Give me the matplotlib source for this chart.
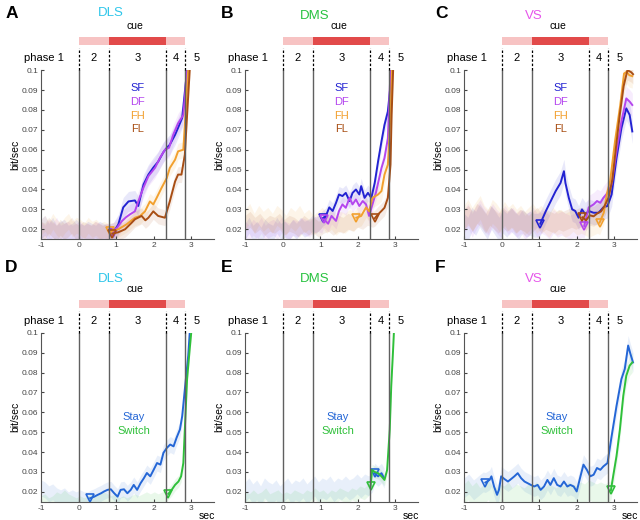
import matplotlib
matplotlib.use("Agg")
import matplotlib.pyplot as plt
import numpy as np
from matplotlib.patches import Rectangle
from matplotlib.transforms import blended_transform_factory

plt.rcParams["font.family"] = ["Liberation Sans", "DejaVu Sans"]

# task phase boundaries (sec) and cue timing
phase_bounds = [0, 0.82, 2.33, 2.84]
phase_names = ["phase 1", "2", "3", "4", "5"]
phase_text_x = [-0.92, 0.4, 1.57, 2.6, 3.15]
yticks = [0.02, 0.03, 0.04, 0.05, 0.06, 0.07, 0.08, 0.09, 0.1]
ytick_labels = ["0.02", "0.03", "0.04", "0.05", "0.06", "0.07", "0.08", "0.09", "0.1"]
xticks = [-1, 0, 1, 2, 3]

col = {"SF": "#2323d2", "DF": "#b446ee", "FH": "#f2a02e", "FL": "#a84e14",
       "Stay": "#2466d6", "Switch": "#2fc03a"}

# ---------------- panel A (DLS) ----------------
A_SF_pre = [0.020, 0.022, 0.018, 0.021, 0.017, 0.019, 0.020, 0.017, 0.018, 0.020,
            0.018, 0.017, 0.019, 0.018, 0.017, 0.019, 0.018, 0.017, 0.018]
A_SF_t = [0.93, 1.06, 1.19, 1.33, 1.5, 1.59, 1.73, 1.86, 1.99, 2.12, 2.26, 2.35, 2.43,
          2.57, 2.65, 2.76, 2.83, 2.89]
A_SF = [0.0183, 0.0225, 0.031, 0.034, 0.0345, 0.0317, 0.0425, 0.0475, 0.051, 0.054,
        0.0588, 0.061, 0.0625, 0.0675, 0.071, 0.076, 0.089, 0.1]
A_DF_pre = [0.019, 0.017, 0.020, 0.018, 0.021, 0.017, 0.018, 0.019, 0.017, 0.018,
            0.019, 0.017, 0.018, 0.017, 0.019, 0.018, 0.017, 0.018, 0.018]
A_DF_t = [0.93, 1.15, 1.26, 1.37, 1.5, 1.59, 1.73, 1.86, 2.04, 2.17, 2.3, 2.41, 2.52,
          2.65, 2.79, 2.83, 2.88]
A_DF = [0.0183, 0.024, 0.026, 0.0275, 0.029, 0.034, 0.041, 0.0467, 0.051, 0.056, 0.06,
        0.061, 0.0675, 0.0733, 0.0775, 0.086, 0.1]
A_FH_pre = [0.021, 0.023, 0.020, 0.024, 0.021, 0.019, 0.022, 0.024, 0.020, 0.022,
            0.021, 0.019, 0.022, 0.020, 0.021, 0.019, 0.020, 0.019]
A_FH_t = [0.84, 1.06, 1.28, 1.5, 1.64, 1.77, 1.9, 1.99, 2.08, 2.21, 2.35, 2.43, 2.57,
          2.65, 2.79, 2.83, 2.92]
A_FH = [0.019, 0.02, 0.0225, 0.0258, 0.0267, 0.029, 0.034, 0.0325, 0.0358, 0.0408,
        0.0458, 0.0508, 0.055, 0.0592, 0.06, 0.0725, 0.1]
A_FL_pre = [0.020, 0.019, 0.022, 0.020, 0.018, 0.021, 0.019, 0.020, 0.022, 0.019,
            0.018, 0.020, 0.019, 0.018, 0.020, 0.019, 0.018, 0.019, 0.018]
A_FL_t = [0.9, 1.06, 1.24, 1.4, 1.5, 1.68, 1.78, 1.86, 1.99, 2.12, 2.3, 2.43, 2.57,
          2.65, 2.74, 2.83, 2.89, 2.96]
A_FL = [0.0178, 0.0185, 0.02, 0.023, 0.025, 0.0267, 0.0245, 0.0258, 0.029, 0.0267,
        0.0258, 0.034, 0.044, 0.0475, 0.0475, 0.0575, 0.0775, 0.1]

# ---------------- panel B (DMS) ----------------
B_SF_pre = [0.019, 0.022, 0.018, 0.020, 0.017, 0.021, 0.019, 0.018, 0.022, 0.019,
            0.020, 0.018, 0.021, 0.019, 0.022, 0.020, 0.021, 0.023, 0.022, 0.024]
B_SF_t = [1.06, 1.15, 1.24, 1.33, 1.42, 1.5, 1.59, 1.68, 1.78, 1.86, 1.95, 2.04, 2.09,
          2.18, 2.27, 2.36, 2.45, 2.54, 2.63, 2.71, 2.8, 2.87, 2.9]
B_SF = [0.0255, 0.0267, 0.031, 0.0292, 0.0333, 0.0375, 0.0367, 0.0383, 0.0342, 0.0383,
        0.04, 0.0375, 0.0417, 0.0358, 0.0383, 0.0358, 0.0433, 0.0542, 0.0642, 0.0725,
        0.0792, 0.0925, 0.1]
B_DF_pre = [0.020, 0.018, 0.021, 0.019, 0.022, 0.018, 0.020, 0.021, 0.019, 0.022,
            0.020, 0.019, 0.021, 0.020, 0.022, 0.021, 0.020, 0.022, 0.023, 0.022]
B_DF_t = [1.1, 1.21, 1.3, 1.42, 1.5, 1.59, 1.68, 1.78, 1.86, 1.95, 2.04, 2.13, 2.22,
          2.3, 2.39, 2.48, 2.63, 2.71, 2.8, 2.87]
B_DF = [0.025, 0.0228, 0.0267, 0.0242, 0.0292, 0.0325, 0.0308, 0.0358, 0.0325, 0.035,
        0.0317, 0.0342, 0.0325, 0.0267, 0.0325, 0.0383, 0.0508, 0.0558, 0.0658, 0.1]
B_FH_pre = [0.025, 0.028, 0.023, 0.027, 0.024, 0.026, 0.023, 0.027, 0.025, 0.022,
            0.026, 0.024, 0.027, 0.023, 0.025, 0.022, 0.024, 0.026, 0.023, 0.025,
            0.022, 0.024, 0.023, 0.025, 0.024]
B_FH_t = [1.96, 2.09, 2.22, 2.3, 2.39, 2.54, 2.63, 2.71, 2.8, 2.87, 2.91]
B_FH = [0.0258, 0.0267, 0.031, 0.029, 0.0358, 0.0375, 0.0392, 0.0475, 0.0525, 0.0775, 0.1]
B_FL_pre = [0.023, 0.025, 0.022, 0.024, 0.021, 0.023, 0.022, 0.024, 0.021, 0.023,
            0.022, 0.020, 0.023, 0.021, 0.022, 0.020, 0.022, 0.023, 0.021, 0.023,
            0.022, 0.024, 0.023, 0.025, 0.024, 0.026, 0.025]
B_FL_t = [2.45, 2.54, 2.63, 2.71, 2.8, 2.87, 2.9, 2.94]
B_FL = [0.0255, 0.0275, 0.0292, 0.0308, 0.0358, 0.0525, 0.0775, 0.1]

# ---------------- panel C (VS) ----------------
C_SF_pre = [0.022, 0.020, 0.025, 0.023, 0.027, 0.024, 0.021, 0.026, 0.023, 0.020,
            0.024, 0.022, 0.025, 0.023, 0.021, 0.024, 0.022, 0.023, 0.022, 0.022]
C_SF_t = [1.03, 1.18, 1.31, 1.44, 1.57, 1.66, 1.7, 1.79, 1.88, 1.96, 2.05, 2.14, 2.23,
          2.32, 2.45, 2.58, 2.71, 2.82, 2.93, 3.06, 3.19, 3.32, 3.41, 3.48]
C_SF = [0.0228, 0.0292, 0.0342, 0.0392, 0.0433, 0.0492, 0.0433, 0.0358, 0.03, 0.0292,
        0.0258, 0.03, 0.0275, 0.0292, 0.0283, 0.0283, 0.031, 0.0317, 0.0375, 0.0558,
        0.0708, 0.0808, 0.0775, 0.0692]
C_DF_pre = [0.024, 0.027, 0.022, 0.026, 0.029, 0.025, 0.023, 0.027, 0.024, 0.022,
            0.026, 0.023, 0.025, 0.022, 0.024, 0.021, 0.023, 0.025, 0.022, 0.024,
            0.023, 0.021, 0.024, 0.022, 0.023, 0.022, 0.021, 0.022, 0.021, 0.022]
C_DF_t = [2.2, 2.32, 2.45, 2.54, 2.63, 2.71, 2.82, 2.93, 3.06, 3.19, 3.32, 3.41, 3.48]
C_DF = [0.0217, 0.031, 0.0325, 0.0342, 0.0333, 0.0358, 0.0383, 0.0425, 0.0592, 0.0742,
        0.0858, 0.0842, 0.0825]
C_FH_pre = [0.026, 0.029, 0.025, 0.028, 0.031, 0.026, 0.024, 0.029, 0.027, 0.024,
            0.028, 0.025, 0.027, 0.024, 0.026, 0.023, 0.025, 0.027, 0.024, 0.026,
            0.024, 0.022, 0.025, 0.023, 0.024, 0.022, 0.023, 0.025, 0.023, 0.024,
            0.023, 0.022, 0.023, 0.024]
C_FH_t = [2.61, 2.72, 2.81, 2.89, 3.02, 3.16, 3.26, 3.33, 3.4, 3.48]
C_FH = [0.0233, 0.0283, 0.0383, 0.0442, 0.0642, 0.0825, 0.0983, 0.0992, 0.0975, 0.097]
C_FL_pre = [0.025, 0.027, 0.024, 0.028, 0.026, 0.023, 0.027, 0.025, 0.023, 0.026,
            0.024, 0.026, 0.023, 0.025, 0.024, 0.022, 0.024, 0.026, 0.023, 0.025,
            0.024, 0.023, 0.025, 0.024, 0.025, 0.026, 0.025, 0.026]
C_FL_t = [2.15, 2.25, 2.35, 2.45, 2.55, 2.65, 2.75, 2.85, 2.95, 3.05, 3.15, 3.25, 3.35,
          3.45, 3.5]
C_FL = [0.026, 0.0245, 0.027, 0.0265, 0.028, 0.029, 0.032, 0.036, 0.045, 0.062, 0.078,
        0.092, 0.1, 0.099, 0.098]

# ---------------- panel D (DLS, stay/switch) ----------------
D_Stay_pre = [0.022, 0.021, 0.019, 0.020, 0.018, 0.017, 0.018, 0.016, 0.017, 0.016,
              0.017, 0.016, 0.016]
D_Stay_t = [0.31, 0.42, 0.51, 0.6, 0.68, 0.77, 0.86, 0.95, 1.04, 1.12, 1.21, 1.3, 1.39,
            1.47, 1.56, 1.65, 1.74, 1.82, 1.91, 2.0, 2.09, 2.18, 2.26, 2.35, 2.44, 2.53,
            2.61, 2.7, 2.76, 2.83, 2.92, 2.96]
D_Stay = [0.0168, 0.0176, 0.0185, 0.0193, 0.0202, 0.021, 0.0213, 0.0193, 0.0176, 0.021,
          0.0213, 0.0193, 0.021, 0.0235, 0.021, 0.0243, 0.0269, 0.0295, 0.0278, 0.0311,
          0.0345, 0.0337, 0.0396, 0.0421, 0.0438, 0.0429, 0.0472, 0.0514, 0.0581,
          0.0716, 0.0885, 0.1]
D_Switch_pre = [0.015, 0.016, 0.014, 0.015, 0.017, 0.016, 0.018, 0.016, 0.015, 0.014,
                0.015, 0.014, 0.015, 0.016, 0.015, 0.016, 0.017, 0.016, 0.015, 0.016,
                0.014, 0.015, 0.014, 0.015, 0.016, 0.015, 0.016, 0.017, 0.016, 0.017,
                0.016, 0.017, 0.018]
D_Switch_t = [2.39, 2.48, 2.57, 2.66, 2.73, 2.79, 2.83, 2.89, 2.96, 3.0]
D_Switch = [0.019, 0.021, 0.0235, 0.0252, 0.0278, 0.0345, 0.0514, 0.0767, 0.0919, 0.1]

# ---------------- panel E (DMS, stay/switch) ----------------
E_Stay_pre = [0.020, 0.022, 0.019, 0.021, 0.018, 0.022, 0.020, 0.019, 0.021, 0.018,
              0.020, 0.022, 0.019, 0.021, 0.020, 0.022, 0.019, 0.021, 0.023, 0.020,
              0.022, 0.021, 0.023, 0.020, 0.022, 0.021, 0.023, 0.021, 0.022, 0.024,
              0.022, 0.024, 0.023, 0.025]
E_Stay_t = [2.45, 2.54, 2.63, 2.7]
E_Stay = [0.0294, 0.0278, 0.0294, 0.0269]
E_Switch_pre = [0.017, 0.016, 0.018, 0.016, 0.017, 0.019, 0.016, 0.017, 0.018, 0.016,
                0.017, 0.016, 0.018, 0.017, 0.016, 0.018, 0.017, 0.019, 0.017, 0.018,
                0.016, 0.018, 0.017, 0.019, 0.018, 0.017, 0.019, 0.018, 0.020, 0.019,
                0.021]
E_Switch_t = [2.34, 2.38, 2.45, 2.54, 2.63, 2.71, 2.78, 2.85, 2.89, 2.94, 2.96]
E_Switch = [0.0227, 0.031, 0.030, 0.0294, 0.0278, 0.026, 0.031, 0.0514, 0.0733,
            0.0919, 0.1]

# ---------------- panel F (VS, stay/switch) ----------------
F_Stay_pre = [0.022, 0.024, 0.021, 0.023, 0.025]
F_Stay_t = [-0.43, -0.32, -0.27, -0.2, -0.12, -0.07, -0.01, 0.08, 0.17, 0.25, 0.34,
            0.43, 0.52, 0.61, 0.69, 0.78, 0.87, 0.96, 1.04, 1.13, 1.22, 1.3, 1.39, 1.48,
            1.57, 1.66, 1.75, 1.83, 1.92, 2.0, 2.1, 2.18, 2.27, 2.36, 2.45, 2.54, 2.63,
            2.71, 2.82, 2.93, 3.06, 3.19, 3.28, 3.37, 3.43, 3.5]
F_Stay = [0.0247, 0.026, 0.0278, 0.0227, 0.0185, 0.021, 0.0278, 0.0264, 0.0252, 0.0264,
          0.0278, 0.0294, 0.0269, 0.0252, 0.0244, 0.0235, 0.0227, 0.0235, 0.021,
          0.0227, 0.026, 0.0235, 0.0269, 0.0235, 0.0227, 0.0252, 0.0227, 0.0235,
          0.0227, 0.0202, 0.0278, 0.0337, 0.0311, 0.0278, 0.0286, 0.032, 0.0311,
          0.0328, 0.0345, 0.048, 0.0632, 0.0767, 0.0818, 0.0936, 0.0894, 0.0851]
F_Switch_pre = [0.019, 0.021, 0.018, 0.020, 0.017, 0.019, 0.021, 0.018, 0.017, 0.019,
                0.018, 0.020, 0.017, 0.019, 0.018, 0.017, 0.019, 0.018, 0.020, 0.018,
                0.017, 0.019, 0.018, 0.017, 0.019, 0.018, 0.020, 0.019, 0.018, 0.020,
                0.019, 0.021, 0.020, 0.019, 0.020, 0.019, 0.020]
F_Switch_t = [2.91, 2.97, 3.06, 3.15, 3.24, 3.32, 3.41, 3.48]
F_Switch = [0.0207, 0.0278, 0.038, 0.0514, 0.0683, 0.0784, 0.0835, 0.0851]

panels = [
    ("A", "DLS", "#2ec6ea", [("SF", A_SF_pre, A_SF_t, A_SF, 0.005), ("DF", A_DF_pre, A_DF_t, A_DF, 0.005),
                             ("FH", A_FH_pre, A_FH_t, A_FH, 0.004), ("FL", A_FL_pre, A_FL_t, A_FL, 0.004)]),
    ("B", "DMS", "#27c23f", [("SF", B_SF_pre, B_SF_t, B_SF, 0.004), ("DF", B_DF_pre, B_DF_t, B_DF, 0.004),
                             ("FH", B_FH_pre, B_FH_t, B_FH, 0.005), ("FL", B_FL_pre, B_FL_t, B_FL, 0.004)]),
    ("C", "VS", "#e656ea", [("SF", C_SF_pre, C_SF_t, C_SF, 0.006), ("DF", C_DF_pre, C_DF_t, C_DF, 0.006),
                            ("FH", C_FH_pre, C_FH_t, C_FH, 0.006), ("FL", C_FL_pre, C_FL_t, C_FL, 0.005)]),
    ("D", "DLS", "#2ec6ea", [("Stay", D_Stay_pre, D_Stay_t, D_Stay, 0.004),
                             ("Switch", D_Switch_pre, D_Switch_t, D_Switch, 0.003)]),
    ("E", "DMS", "#27c23f", [("Stay", E_Stay_pre, E_Stay_t, E_Stay, 0.005),
                             ("Switch", E_Switch_pre, E_Switch_t, E_Switch, 0.003)]),
    ("F", "VS", "#e656ea", [("Stay", F_Stay_pre, F_Stay_t, F_Stay, 0.005),
                            ("Switch", F_Switch_pre, F_Switch_t, F_Switch, 0.005)]),
]

fig = plt.figure(figsize=(6.4, 5.2), dpi=100)
lefts = [0.064, 0.383, 0.725]
bottoms = [0.540, 0.035]
title_y = [1.34, 1.32, 1.32, 1.32, 1.32, 1.32]

for k, (letter, region, tcolor, series) in enumerate(panels):
    r, c = divmod(k, 3)
    ax = fig.add_axes([lefts[c], bottoms[r], 0.27, 0.325])
    tr = blended_transform_factory(ax.transData, ax.transAxes)

    for name, pre, t, y, sem in series:
        pre_t = np.linspace(-1, t[0] - 0.06, len(pre))
        tt = np.concatenate([pre_t, t])
        yy = np.concatenate([pre, y])
        ax.fill_between(tt, yy - sem, yy + sem, color=col[name], alpha=0.1, lw=0)
    for name, pre, t, y, sem in series:
        ax.plot(t, y, color=col[name], lw=1.4)
        ax.plot(t[0], y[0], marker="v", ms=6, mfc="none", mec=col[name], mew=1.2)

    for b in phase_bounds:
        ax.axvline(b, color="#606060", lw=1.0)
        ax.plot([b, b], [1.0, 1.13], transform=tr, color="k", lw=0.9,
                ls=(0, (2, 1.5)), clip_on=False)
    for name, xp in zip(phase_names, phase_text_x):
        ax.text(xp, 1.07, name, transform=tr, ha="center", va="center", fontsize=8)

    # cue bar
    ax.add_patch(Rectangle((0, 1.148), 0.82, 0.047, transform=tr, color="#f7c3c3",
                           lw=0, clip_on=False))
    ax.add_patch(Rectangle((0.82, 1.148), 1.51, 0.047, transform=tr, color="#e24a4a",
                           lw=0, clip_on=False))
    ax.add_patch(Rectangle((2.33, 1.148), 0.51, 0.047, transform=tr, color="#f7c3c3",
                           lw=0, clip_on=False))
    ax.text(1.5, 1.262, "cue", transform=tr, ha="center", va="center", fontsize=7.5)
    ax.text(0.85, title_y[k], region, transform=tr, ha="center", va="center",
            fontsize=9.5, color=tcolor)

    # legend words
    if r == 0:
        for j, (name, *_rest) in enumerate(series):
            ax.text(1.57, 0.091 - j * 0.0069, name, color=col[name], ha="center",
                    va="center", fontsize=8)
    else:
        for j, (name, *_rest) in enumerate(series):
            ax.text(1.47, 0.0575 - j * 0.0071, name, color=col[name], ha="center",
                    va="center", fontsize=8)
        ax.text(3.2, -0.085, "sec", transform=tr, ha="left", va="center", fontsize=7.5)

    ax.set_xlim(-1, 3.6)
    ax.set_ylim(0.015, 0.1)
    ax.set_xticks(xticks)
    ax.set_xticklabels([str(v) for v in xticks])
    ax.set_yticks(yticks)
    ax.set_yticklabels(ytick_labels)
    ax.tick_params(direction="in", length=2.5, labelsize=6, colors="#444444", pad=2)
    for s in ["top", "right"]:
        ax.spines[s].set_visible(False)
    for s in ["left", "bottom"]:
        ax.spines[s].set_color("#555555")
        ax.spines[s].set_linewidth(0.8)
    ax.set_ylabel("bit/sec", fontsize=7.5, labelpad=1)

    fig.text([0.008, 0.345, 0.68][c], [0.975, 0.485][r], letter, fontsize=12.5,
             fontweight="bold", va="center", ha="left")

fig.savefig("out.png", dpi=100)
